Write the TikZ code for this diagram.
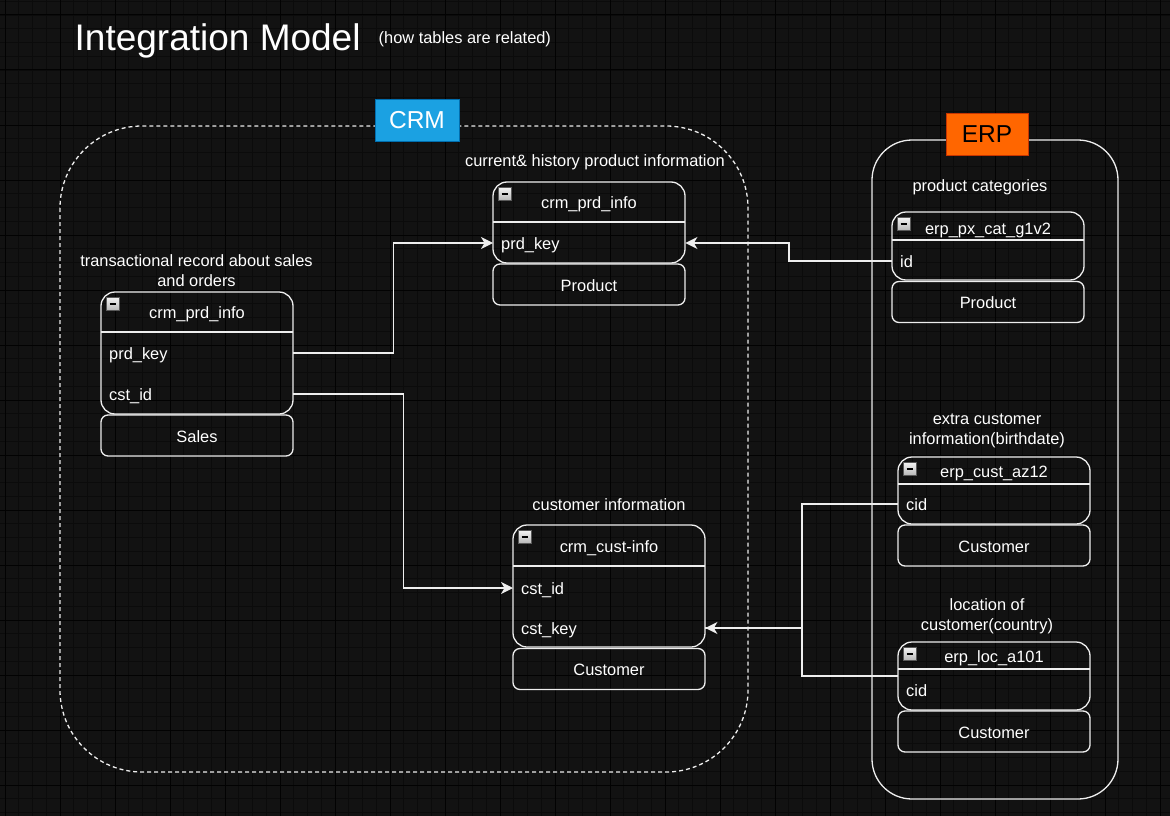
\documentclass[tikz,border=0pt]{standalone}
\usepackage{fontspec}
\setmainfont{Liberation Sans}
\usetikzlibrary{arrows.meta}

\definecolor{fondo}{RGB}{18,18,18}
\definecolor{rejilla}{RGB}{11,11,11}
\definecolor{rejillaM}{RGB}{2,2,2}
\definecolor{linea}{RGB}{238,238,238}
\definecolor{crmazul}{HTML}{1BA1E2}
\definecolor{crmborde}{HTML}{006EAF}
\definecolor{erpnaranja}{HTML}{FF6600}
\definecolor{erpborde}{HTML}{C73500}

\begin{document}
\begin{tikzpicture}[x=1pt, y=-1pt,
    every node/.style={text=white, font=\fontsize{16.4}{20}\selectfont},
    tabla/.style={draw=linea, line width=1.3pt, rounded corners=14pt},
    sep/.style={draw=linea, line width=1.3pt},
    pie/.style={draw=linea, line width=1.3pt, rounded corners=7pt, minimum width=192pt, minimum height=41pt, inner sep=0pt, text height=14pt, text depth=1pt},
    cabeza/.style={inner sep=0pt, text height=14pt, text depth=1pt},
    campo/.style={anchor=west, text width=176pt, inner xsep=8pt, inner ysep=0pt, text height=14pt, text depth=1pt, align=left},
    nota/.style={align=center, inner sep=0pt},
    rel/.style={draw=linea, line width=1.3pt, -{Stealth[length=12pt, width=12pt, inset=3.5pt]}},
    boton/.style={draw=gray!70!black, top color=gray!10, bottom color=gray!55, line width=0.8pt}]
    \useasboundingbox (0,0) rectangle (1170,816);

    % Fondo y rejilla
    \fill[fondo] (0,0) rectangle (1170,816);
    \foreach \i in {-1,...,85} \draw[rejilla, line width=0.6pt] ({5+13.75*\i},0) -- ({5+13.75*\i},816);
    \foreach \j in {-2,...,58} \draw[rejilla, line width=0.6pt] (0,{15+13.75*\j}) -- (1170,{15+13.75*\j});
    \foreach \i in {0,...,21} \draw[rejillaM, line width=1pt] ({5+55*\i},0) -- ({5+55*\i},816);
    \foreach \j in {0,...,14} \draw[rejillaM, line width=1pt] (0,{15+55*\j}) -- (1170,{15+55*\j});

    % Titulo
    \node[anchor=base west, inner sep=0pt, font=\fontsize{37}{44}\selectfont] (titulo) at (74.5,51) {Integration Model};
    \node[anchor=base west, inner sep=0pt] (subtitulo) at (378.5,44) {(how tables are related)};

    % Contenedor CRM
    \draw[linea, line width=1.3pt, dash pattern=on 4pt off 3pt, rounded corners=82pt] (60,126) rectangle (748,772);
    \node[draw=crmborde, fill=crmazul, line width=1pt, minimum width=84pt, minimum height=42pt, inner sep=0pt, font=\fontsize{24.5}{28}\selectfont] (crm) at (417,120) {CRM};

    % Contenedor ERP
    \draw[linea, line width=1.3pt, rounded corners=40pt] (872,140) rectangle (1118,799);
    \node[draw=erpborde, fill=erpnaranja, line width=1pt, minimum width=82pt, minimum height=42pt, inner sep=0pt, text=black, font=\fontsize{24.5}{28}\selectfont] (erp) at (987,134) {ERP};

    % Tabla de ventas
    \node[nota] (notaVentas) at (196.5,271) {transactional record about sales\\and orders};
    \draw[tabla] (101,292) rectangle (293,414);
    \draw[sep] (101,332) -- (293,332);
    \node[cabeza] (ventas) at (197,312) {crm\_prd\_info};
    \node[campo] (vPrd) at (101,353) {prd\_key};
    \node[campo] (vCst) at (101,394) {cst\_id};
    \node[pie] (pieVentas) at (197,435.5) {Sales};

    % Tabla de productos CRM
    \node[cabeza] (notaProd) at (595,160) {current\& history product information};
    \draw[tabla] (493,182) rectangle (685,263);
    \draw[sep] (493,222) -- (685,222);
    \node[cabeza] (prod) at (589,202) {crm\_prd\_info};
    \node[campo] (pPrd) at (493,243) {prd\_key};
    \node[pie] (pieProd) at (589,284.5) {Product};

    % Tabla de clientes CRM
    \node[cabeza] (notaCli) at (609,504) {customer information};
    \draw[tabla] (513,525) rectangle (705,647);
    \draw[sep] (513,566) -- (705,566);
    \node[cabeza] (cli) at (609,546) {crm\_cust-info};
    \node[campo] (cId) at (513,588) {cst\_id};
    \node[campo] (cKey) at (513,628) {cst\_key};
    \node[pie] (pieCli) at (609,669) {Customer};

    % Tabla de categorias ERP
    \node[cabeza] (notaCat) at (980,185) {product categories};
    \draw[tabla] (892,212) rectangle (1084,280);
    \draw[sep] (892,240) -- (1084,240);
    \node[cabeza] (cat) at (988,227.5) {erp\_px\_cat\_g1v2};
    \node[campo] (gId) at (892,261) {id};
    \node[pie] (pieCat) at (988,302) {Product};

    % Tabla de clientes ERP
    \node[nota] (notaAz) at (987,431) {extra customer\\information(birthdate)};
    \draw[tabla] (898,457) rectangle (1090,524);
    \draw[sep] (898,484) -- (1090,484);
    \node[cabeza] (az) at (994,471) {erp\_cust\_az12};
    \node[campo] (aCid) at (898,504) {cid};
    \node[pie] (pieAz) at (994,545.5) {Customer};

    % Tabla de ubicaciones ERP
    \node[nota] (notaLoc) at (987,616) {location of\\customer(country)};
    \draw[tabla] (898,642) rectangle (1090,710);
    \draw[sep] (898,669) -- (1090,669);
    \node[cabeza] (loc) at (994,656) {erp\_loc\_a101};
    \node[campo] (lCid) at (898,690) {cid};
    \node[pie] (pieLoc) at (994,731.5) {Customer};

    % Botones de las cabeceras
    \foreach \bx/\by in {101/292, 493/182, 513/525, 892/212, 898/457, 898/642} {
        \draw[boton] (\bx+5.5,\by+5.5) rectangle ++(12.5,12.5);
        \draw[black, line width=2pt] (\bx+8.5,\by+11.75) -- ++(6.5,0);
    }

    % Relaciones
    \draw[rel] (vPrd.east) -- ++(100,0) |- (pPrd.west);
    \draw[rel] (gId.west) -- ++(-103,0) |- (pPrd.east);
    \draw[rel] (vCst.east) -- ++(110,0) |- (cId.west);
    \draw[rel] (aCid.west) -- ++(-96,0) |- (cKey.east);
    \draw[draw=linea, line width=1.3pt] ([yshift=14pt]lCid.west) -- ++(-96,0) |- (cKey.east);

\end{tikzpicture}
\end{document}
